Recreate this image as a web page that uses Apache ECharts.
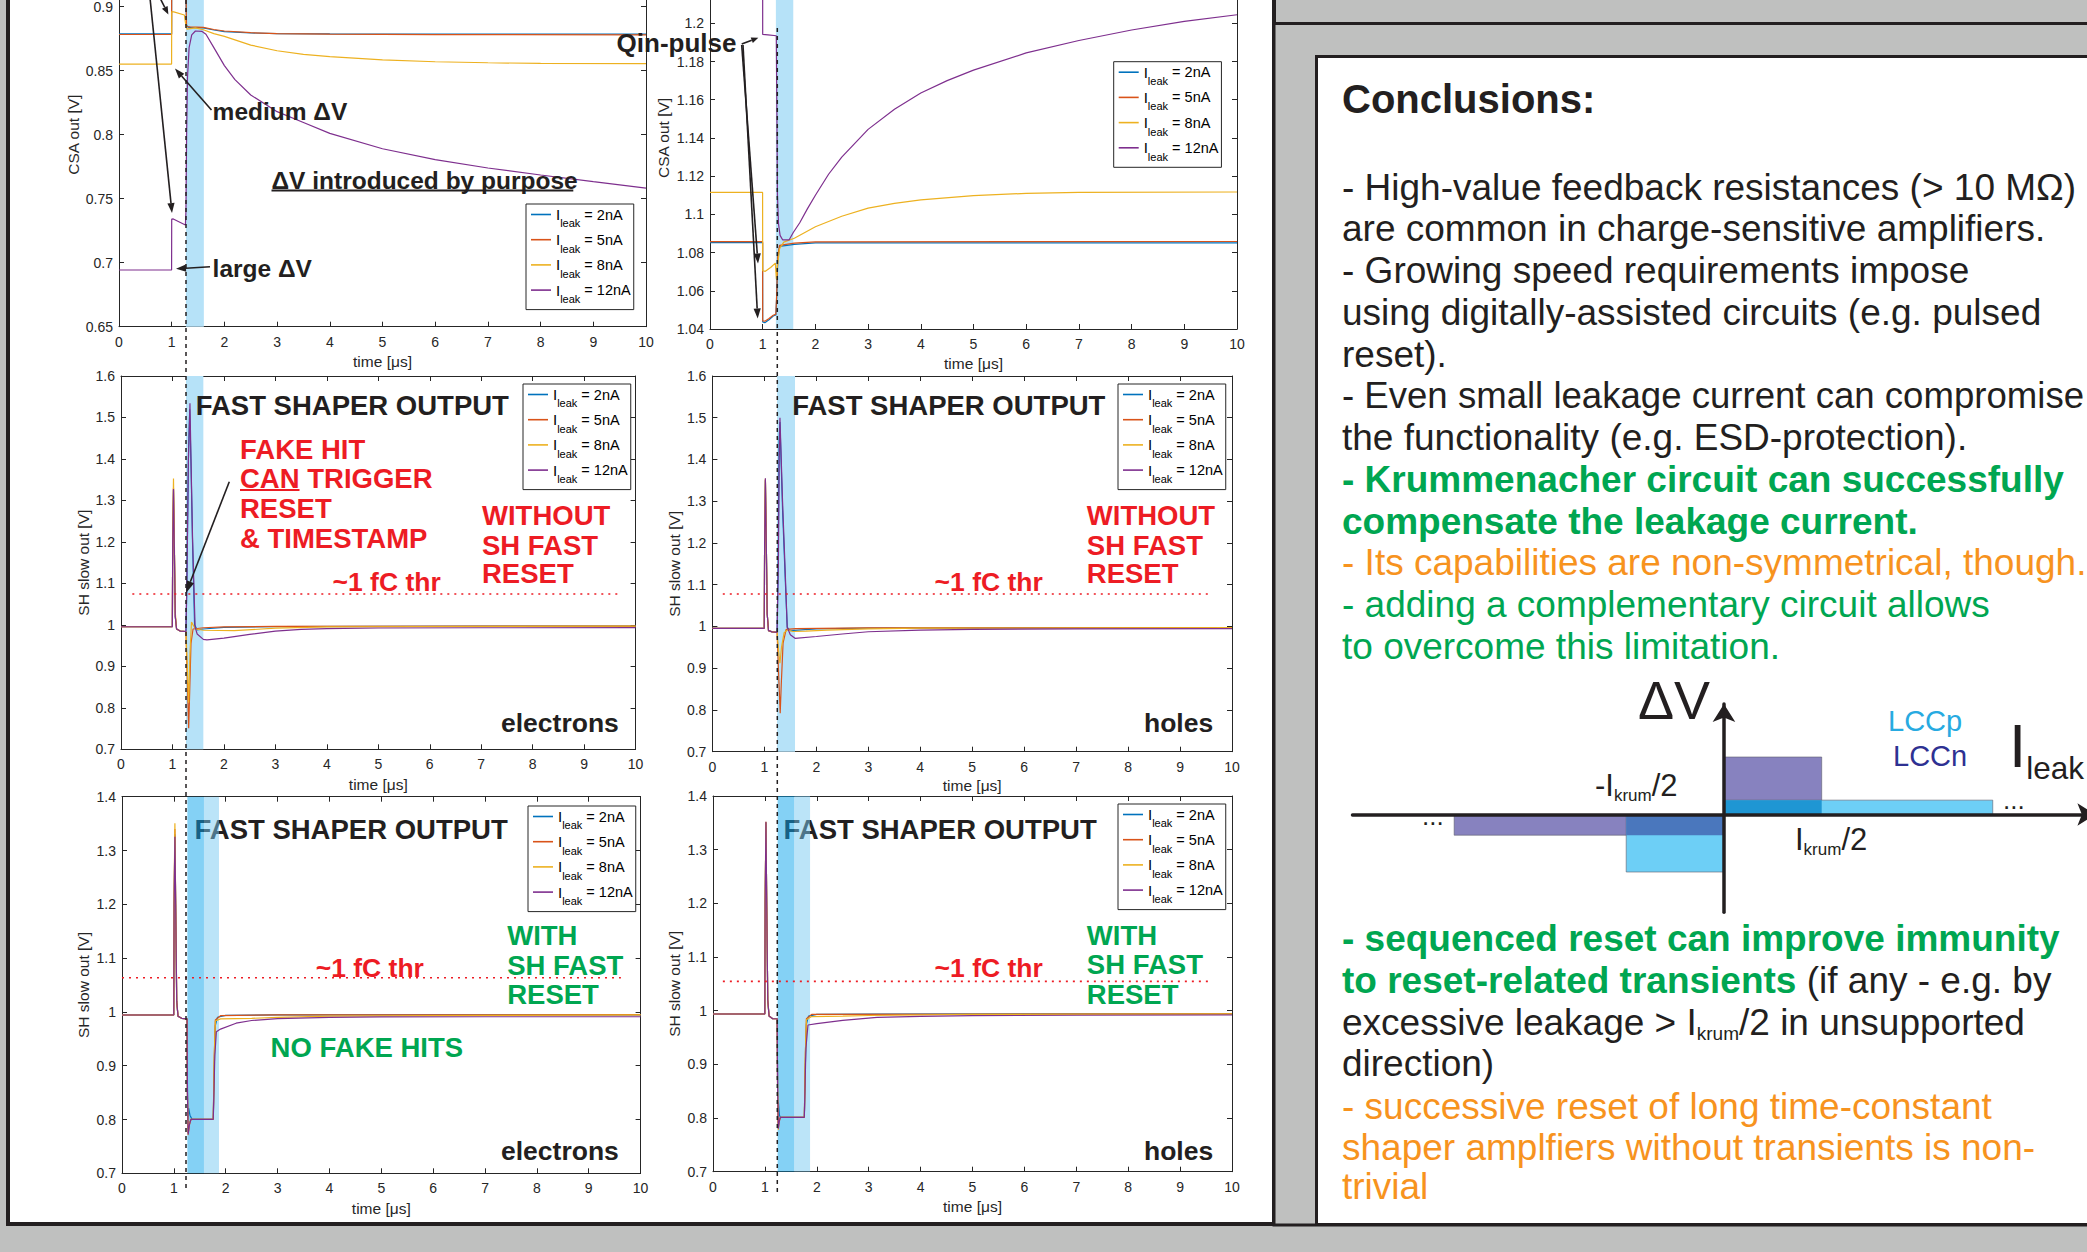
<!DOCTYPE html>
<html><head><meta charset="utf-8"><title>Leakage compensation – conclusions</title>
<script src="https://cdn.jsdelivr.net/npm/echarts@6.0.0/dist/echarts.min.js"></script>
<style>html,body{margin:0;padding:0;background:#bfc0bf;overflow:hidden}#chart{width:2087px;height:1252px}</style>
</head><body><div id="chart"></div><script>
// ================= DATA =================
const seriesNames = ['I_leak = 2nA', 'I_leak = 5nA', 'I_leak = 8nA', 'I_leak = 12nA'];
const ticksTime = [0, 1, 2, 3, 4, 5, 6, 7, 8, 9, 10];
const ticksCsaE = [0.65, 0.7, 0.75, 0.8, 0.85, 0.9];
const ticksCsaH = [1.04, 1.06, 1.08, 1.1, 1.12, 1.14, 1.16, 1.18, 1.2];
const ticksSh = [0.7, 0.8, 0.9, 1, 1.1, 1.2, 1.3, 1.4, 1.5, 1.6];
const ticksShF = [0.7, 0.8, 0.9, 1, 1.1, 1.2, 1.3, 1.4];

// Panel 1: CSA out, "ΔV introduced by purpose"
const csaE2nA = [[0,0.8787],[0.998,0.8787],[1.0,0.93],[1.262,0.93],[1.28,0.8855],[1.32,0.8838],[1.6,0.8834],[1.8,0.8818],[2.0,0.8806],[2.5,0.8795],[3,0.879],[4,0.8787],[6,0.8786],[10,0.8786]];
const csaE5nA = [[0,0.8783],[0.998,0.8783],[1.0,0.93],[1.262,0.93],[1.282,0.8845],[1.35,0.8842],[1.6,0.8838],[1.8,0.8822],[2.0,0.881],[2.5,0.8797],[3,0.879],[4,0.8785],[6,0.8782],[10,0.878]];
const csaE8nA = [[0,0.8552],[0.998,0.8552],[1.0,0.8961],[1.04,0.896],[1.24,0.8935],[1.265,0.8865],[1.29,0.8825],[1.45,0.8835],[1.6,0.882],[1.8,0.879],[2.0,0.8768],[2.5,0.870],[3.0,0.8656],[3.5,0.8628],[4.0,0.861],[5.0,0.8585],[6.0,0.857],[7,0.8562],[8,0.8557],[10,0.8555]];
const csaE12nA = [[0,0.6943],[0.998,0.6943],[1.0,0.734],[1.03,0.7342],[1.26,0.7295],[1.27,0.74],[1.283,0.80],[1.30,0.845],[1.33,0.868],[1.38,0.878],[1.45,0.881],[1.57,0.8808],[1.65,0.8785],[1.8,0.868],[2.0,0.854],[2.2,0.843],[2.5,0.831],[3.0,0.818],[3.5,0.8095],[4.0,0.801],[5.0,0.789],[6.0,0.7805],[7,0.774],[8,0.7685],[9,0.7633],[10,0.7583]];

// Panel 2: CSA out, Qin-pulse
const csaH2nA = [[0,1.0852],[0.998,1.0852],[1.0,1.0437],[1.04,1.0433],[1.12,1.0448],[1.2,1.0468],[1.25,1.0473],[1.268,1.058],[1.285,1.076],[1.32,1.0832],[1.6,1.0843],[2.0,1.0851],[10,1.0851]];
const csaH5nA = [[0,1.0857],[0.998,1.0857],[1.0,1.0443],[1.04,1.0441],[1.12,1.0455],[1.2,1.0472],[1.25,1.0478],[1.268,1.060],[1.285,1.078],[1.32,1.0838],[1.6,1.0849],[2.0,1.0856],[10,1.0858]];
const csaH8nA = [[0,1.1115],[0.998,1.1115],[1.0,1.0705],[1.05,1.0702],[1.15,1.0722],[1.24,1.0745],[1.26,1.066],[1.28,1.073],[1.32,1.082],[1.4,1.0855],[1.6,1.0875],[1.8,1.0905],[2.0,1.0935],[2.5,1.099],[3.0,1.1033],[3.5,1.1058],[4.0,1.1076],[5.0,1.1098],[6.0,1.111],[7,1.1115],[10,1.1117]];
const csaH12nA = [[0,1.26],[0.998,1.26],[1.0,1.1942],[1.1,1.194],[1.258,1.1935],[1.27,1.15],[1.28,1.11],[1.30,1.095],[1.33,1.089],[1.38,1.0866],[1.5,1.0866],[1.58,1.0905],[1.7,1.0955],[1.85,1.103],[2.0,1.110],[2.25,1.121],[2.5,1.130],[3.0,1.1445],[3.5,1.155],[4.0,1.1635],[4.5,1.170],[5.0,1.1755],[6.0,1.1845],[7.0,1.191],[8.0,1.1965],[9.0,1.201],[10,1.2045]];

// Panel 3: SH slow out, electrons, without SH fast reset
const shE2nA = [[0,0.9955],[0.998,0.9955],[1.005,1.2],[1.02,1.325],[1.035,1.2],[1.055,1.02],[1.08,0.99],[1.15,0.985],[1.262,0.984],[1.28,1.10],[1.31,1.40],[1.335,1.52],[1.36,1.39],[1.39,1.20],[1.43,1.0],[1.48,0.988],[1.6,0.990],[2,0.994],[3,0.996],[10,0.9972]];
const shE5nA = [[0,0.9955],[0.998,0.9955],[1.005,1.2],[1.02,1.33],[1.035,1.2],[1.055,1.02],[1.08,0.99],[1.15,0.985],[1.262,0.984],[1.29,0.86],[1.315,0.751],[1.335,0.84],[1.36,0.955],[1.40,0.99],[1.6,0.993],[2,0.995],[3,0.9966],[10,0.9972]];
const shE8nA = [[0,0.9955],[0.998,0.9955],[1.005,1.22],[1.02,1.353],[1.035,1.22],[1.055,1.03],[1.08,0.99],[1.15,0.985],[1.262,0.984],[1.29,0.89],[1.315,0.812],[1.34,0.93],[1.37,1.007],[1.40,1.0],[1.45,0.99],[1.6,0.987],[2.2,0.986],[3,0.992],[4,0.995],[10,0.9972]];
const shE12nA = [[0,0.9955],[0.998,0.9955],[1.005,1.2],[1.02,1.3276],[1.035,1.2],[1.055,1.02],[1.08,0.99],[1.15,0.985],[1.262,0.984],[1.28,1.10],[1.31,1.40],[1.34,1.534],[1.36,1.40],[1.39,1.21],[1.44,0.995],[1.48,0.978],[1.6,0.965],[1.67,0.9636],[2,0.968],[2.5,0.977],[3,0.985],[3.5,0.989],[4,0.991],[5,0.9925],[7,0.993],[10,0.9932]];

// Panel 4: SH slow out, holes, without SH fast reset
const shH2nA = [[0,0.9955],[0.998,0.9955],[1.005,1.2],[1.02,1.35],[1.035,1.22],[1.055,1.03],[1.08,0.99],[1.15,0.987],[1.245,0.986],[1.265,1.15],[1.285,1.45],[1.30,1.49],[1.35,1.28],[1.40,1.12],[1.44,0.998],[1.5,0.99],[2,0.994],[3,0.996],[10,0.997]];
const shH5nA = [[0,0.9955],[0.998,0.9955],[1.005,1.2],[1.02,1.352],[1.035,1.22],[1.055,1.03],[1.08,0.99],[1.15,0.987],[1.245,0.986],[1.27,0.90],[1.305,0.792],[1.325,0.86],[1.36,0.96],[1.42,0.993],[1.6,0.995],[3,0.9965],[10,0.997]];
const shH8nA = [[0,0.9955],[0.998,0.9955],[1.005,1.2],[1.02,1.354],[1.035,1.22],[1.055,1.03],[1.08,0.99],[1.15,0.987],[1.245,0.986],[1.275,0.94],[1.30,0.912],[1.33,0.95],[1.38,0.985],[1.45,0.992],[1.55,0.988],[1.8,0.989],[2.2,0.991],[3,0.994],[4,0.996],[10,0.997]];
const shH12nA = [[0,0.9955],[0.998,0.9955],[1.005,1.2],[1.02,1.355],[1.035,1.22],[1.055,1.03],[1.08,0.99],[1.15,0.987],[1.245,0.986],[1.27,1.15],[1.285,1.40],[1.30,1.50],[1.35,1.30],[1.40,1.135],[1.44,0.998],[1.5,0.98],[1.59,0.9716],[2.0,0.976],[2.5,0.982],[3,0.9874],[4,0.991],[5,0.993],[7,0.9942],[10,0.9946]];

// Panel 5: SH slow out, electrons, with SH fast reset
const shEf2nA = [[0,0.9942],[0.998,0.9942],[1.005,1.2],[1.02,1.33],[1.035,1.2],[1.055,1.02],[1.08,0.992],[1.15,0.988],[1.255,0.987],[1.262,0.85],[1.27,0.80],[1.285,0.821],[1.31,0.808],[1.35,0.8004],[1.76,0.8004],[1.78,0.90],[1.80,0.975],[1.84,0.99],[2,0.9935],[3,0.9945],[10,0.9945]];
const shEf5nA = [[0,0.9942],[0.998,0.9942],[1.005,1.2],[1.02,1.34],[1.035,1.2],[1.055,1.02],[1.08,0.992],[1.15,0.988],[1.255,0.987],[1.262,0.85],[1.275,0.775],[1.30,0.792],[1.33,0.8004],[1.76,0.8004],[1.78,0.92],[1.80,0.985],[1.9,0.993],[3,0.9945],[10,0.9948]];
const shEf8nA = [[0,0.9942],[0.998,0.9942],[1.005,1.22],[1.02,1.3505],[1.035,1.2],[1.055,1.02],[1.08,0.992],[1.15,0.988],[1.255,0.987],[1.262,0.85],[1.275,0.771],[1.30,0.79],[1.33,0.8004],[1.76,0.8004],[1.78,0.92],[1.80,0.983],[1.9,0.987],[2.5,0.988],[3,0.990],[4,0.992],[6,0.993],[10,0.9945]];
const shEf12nA = [[0,0.9942],[0.998,0.9942],[1.005,1.2],[1.02,1.3257],[1.035,1.2],[1.055,1.02],[1.08,0.992],[1.15,0.988],[1.255,0.987],[1.262,0.85],[1.275,0.772],[1.30,0.79],[1.33,0.8004],[1.76,0.8004],[1.79,0.92],[1.82,0.963],[1.9,0.968],[2.2,0.979],[2.5,0.984],[3.0,0.9874],[4,0.990],[5,0.9908],[7,0.991],[10,0.991]];

// Panel 6: SH slow out, holes, with SH fast reset
const shHf2nA = [[0,0.9938],[0.998,0.9938],[1.005,1.2],[1.02,1.35],[1.035,1.2],[1.055,1.02],[1.08,0.99],[1.15,0.985],[1.237,0.985],[1.245,0.85],[1.25,0.81],[1.26,0.83],[1.28,0.805],[1.30,0.8013],[1.76,0.8013],[1.78,0.90],[1.80,0.975],[1.84,0.99],[2,0.993],[3,0.9938],[10,0.994]];
const shHf5nA = [[0,0.9938],[0.998,0.9938],[1.005,1.2],[1.02,1.351],[1.035,1.2],[1.055,1.02],[1.08,0.99],[1.15,0.985],[1.237,0.985],[1.245,0.85],[1.255,0.79],[1.28,0.798],[1.30,0.8013],[1.76,0.8013],[1.78,0.92],[1.80,0.985],[1.9,0.9932],[10,0.994]];
const shHf8nA = [[0,0.9938],[0.998,0.9938],[1.005,1.22],[1.02,1.352],[1.035,1.2],[1.055,1.02],[1.08,0.99],[1.15,0.985],[1.237,0.985],[1.245,0.85],[1.258,0.778],[1.28,0.795],[1.30,0.8013],[1.76,0.8013],[1.78,0.92],[1.80,0.983],[1.9,0.989],[2.5,0.990],[3,0.991],[5,0.993],[10,0.994]];
const shHf12nA = [[0,0.9938],[0.998,0.9938],[1.005,1.2],[1.02,1.352],[1.035,1.2],[1.055,1.02],[1.08,0.99],[1.15,0.985],[1.237,0.985],[1.245,0.85],[1.258,0.78],[1.28,0.795],[1.30,0.8013],[1.76,0.8013],[1.79,0.93],[1.83,0.9733],[2.0,0.976],[2.5,0.982],[3.16,0.9876],[4,0.9895],[5,0.9907],[7,0.9915],[10,0.992]];

// ~1 fC threshold lines [x, V]
const thrE = [[0.22,1.0744],[9.71,1.0744]];
const thrH = [[0.2,1.0777],[9.63,1.0777]];
const thrEf = [[0.0,1.0636],[9.62,1.0636]];
const thrHf = [[0.19,1.0547],[9.63,1.0547]];

// reset windows [t0, t1, shade]  (0 = reset, 1 = first reset phase, 2 = second reset phase)
const resetCsaE = [[1.27,1.61,0]];
const resetCsaH = [[1.25,1.58,0]];
const resetShE = [[1.263,1.60,0]];
const resetShH = [[1.245,1.59,0]];
const resetShEf = [[1.26,1.58,1],[1.58,1.87,2]];
const resetShHf = [[1.245,1.565,1],[1.565,1.87,2]];

// ΔV vs I_leak sketch: [I0, I1, dV0, dV1] in units of I_krum/2
const lccnRects = [[0,1,0,1.0],[-2.76,0,-0.36,0]];
const lccpRects = [[0,2.75,0,0.25],[-1,0,-1.0,0]];

// ================= STYLE / LAYOUT =================
const FONT = '"Liberation Sans", Arial, Helvetica, sans-serif';
const COLORS = ['#0072BD', '#D95319', '#EDB120', '#7E2F8E'];
const AX = '#262626';
const INK = '#231f20', RED = '#ed1c24', GREEN = '#00a651', ORANGE = '#f7931e';
const BAND = ['#b6e2f8', 'rgba(9,163,235,0.5)', 'rgba(119,201,241,0.5)'];

const panels = [
  {grid:{left:119, top:-57.3, width:527, height:384}, y:[0.65,0.95,0.05], yt:ticksCsaE, yname:'CSA out [V]', yGap:37.5, xGap:27, data:[csaE2nA,csaE5nA,csaE8nA,csaE12nA], bands:resetCsaE, thr:null, legend:[526,204]},
  {grid:{left:710, top:-53.1, width:527, height:382.1}, y:[1.04,1.24,0.02], yt:ticksCsaH, yname:'CSA out [V]', yGap:38.5, xGap:26, data:[csaH2nA,csaH5nA,csaH8nA,csaH12nA], bands:resetCsaH, thr:null, legend:[1113.7,61.7]},
  {grid:{left:121, top:376, width:514.6, height:373.3}, y:[0.7,1.6,0.1], yt:ticksSh, yname:'SH slow out [V]', yGap:29.2, xGap:27, data:[shE2nA,shE5nA,shE8nA,shE12nA], bands:resetShE, thr:thrE, legend:[523,384]},
  {grid:{left:712.4, top:376, width:519.6, height:375.7}, y:[0.7,1.6,0.1], yt:ticksSh, yname:'SH slow out [V]', yGap:29.8, xGap:25.5, data:[shH2nA,shH5nA,shH8nA,shH12nA], bands:resetShH, thr:thrH, legend:[1118,384]},
  {grid:{left:122, top:796.7, width:518.6, height:376.6}, y:[0.7,1.4,0.1], yt:ticksShF, yname:'SH slow out [V]', yGap:30.2, xGap:27, data:[shEf2nA,shEf5nA,shEf8nA,shEf12nA], bands:resetShEf, thr:thrEf, legend:[528,806]},
  {grid:{left:713, top:796, width:519, height:375.7}, y:[0.7,1.4,0.1], yt:ticksShF, yname:'SH slow out [V]', yGap:30.4, xGap:27, data:[shHf2nA,shHf5nA,shHf8nA,shHf12nA], bands:resetShHf, thr:thrHf, legend:[1118,804]}
];

function tickFmt(ticks) {
  return v => { const t = ticks.find(t => Math.abs(t - v) < 1e-6); return t === undefined ? '' : String(t); };
}

const grids = [], xAxes = [], yAxes = [], series = [], legends = [];
panels.forEach((p, g) => {
  grids.push(Object.assign({containLabel:false, outerBoundsMode:'none', show:false}, p.grid));
  const lineS = {show:true, onZero:false, lineStyle:{color:AX, width:1}};
  const tickS = {show:true, inside:true, length:5, lineStyle:{color:AX, width:1}};
  xAxes.push({gridIndex:g, type:'value', position:'bottom', min:0, max:10, interval:1,
    axisLine:lineS, axisTick:tickS, splitLine:{show:false},
    axisLabel:{color:AX, fontSize:14, fontFamily:FONT, margin:8, formatter:tickFmt(ticksTime)},
    name:'time [μs]', nameLocation:'middle', nameGap:p.xGap, nameTextStyle:{color:AX, fontSize:15.5, fontFamily:FONT}});
  xAxes.push({gridIndex:g, type:'value', position:'top', min:0, max:10, interval:1,
    axisLine:lineS, axisTick:tickS, splitLine:{show:false}, axisLabel:{show:false}});
  yAxes.push({gridIndex:g, type:'value', position:'left', min:p.y[0], max:p.y[1], interval:p.y[2],
    axisLine:lineS, axisTick:tickS, splitLine:{show:false},
    axisLabel:{color:AX, fontSize:14, fontFamily:FONT, margin:6, formatter:tickFmt(p.yt)},
    name:p.yname, nameLocation:'middle', nameRotate:90, nameGap:p.yGap, nameTextStyle:{color:AX, fontSize:15.5, fontFamily:FONT}});
  yAxes.push({gridIndex:g, type:'value', position:'right', min:p.y[0], max:p.y[1], interval:p.y[2],
    axisLine:lineS, axisTick:tickS, splitLine:{show:false}, axisLabel:{show:false}});
  // reset window shading
  series.push({type:'custom', xAxisIndex:2*g, yAxisIndex:2*g, data:p.bands, z:1, silent:true,
    renderItem:(params, api) => {
      const cs = params.coordSys;
      const xa = api.coord([api.value(0), p.y[0]])[0];
      const xb = api.coord([api.value(1), p.y[0]])[0];
      return {type:'rect', shape:{x:xa, y:cs.y, width:xb - xa, height:cs.height}, style:{fill:BAND[api.value(2)]}};
    }});
  p.data.forEach((d, i) => series.push({type:'line', name:seriesNames[i], xAxisIndex:2*g, yAxisIndex:2*g,
    data:d, symbol:'none', showSymbol:false, smooth:false, clip:true, silent:true, z:2,
    lineStyle:{width:1.2, color:COLORS[i]}, itemStyle:{color:COLORS[i]}, emphasis:{disabled:true}}));
  if (p.thr) series.push({type:'line', name:'thr', xAxisIndex:2*g, yAxisIndex:2*g, data:p.thr,
    symbol:'none', silent:true, z:3, lineStyle:{width:1.6, color:RED, type:[2,5]}, emphasis:{disabled:true}});
  legends.push({show:true, orient:'vertical', left:p.legend[0], top:p.legend[1], data:seriesNames,
    icon:'rect', itemWidth:20, itemHeight:1.6, itemGap:3.2, padding:[3,3,5,5], selectedMode:false,
    backgroundColor:'#ffffff', borderColor:AX, borderWidth:1, borderRadius:0, itemStyle:{borderWidth:0},
    formatter:n => '{i|I}{s|leak}{t| = ' + n.split('= ')[1] + '}',
    textStyle:{color:'#000', fontFamily:FONT, fontSize:14.5, rich:{
      i:{fontSize:15, lineHeight:15, verticalAlign:'top', color:'#000', fontFamily:FONT},
      s:{fontSize:11, lineHeight:11, padding:[11,0,0,0], verticalAlign:'top', color:'#000', fontFamily:FONT},
      t:{fontSize:14.5, lineHeight:15, verticalAlign:'top', color:'#000', fontFamily:FONT}}}});
});

// ΔV / I_leak sketch (7th grid)
grids.push({left:1352.5, top:704.1, width:742.9, height:208.15, containLabel:false, outerBoundsMode:'none', show:false});
const sk = panels.length;
const arrowLine = {show:true, onZero:true, symbol:['none','arrow'], symbolSize:[17,18], lineStyle:{color:INK, width:3.5}};
xAxes.push({gridIndex:sk, type:'value', min:-3.8, max:3.8, axisLine:arrowLine, axisTick:{show:false}, axisLabel:{show:false}, splitLine:{show:false}, z:10});
yAxes.push({gridIndex:sk, type:'value', min:-1.7, max:1.92, axisLine:arrowLine, axisTick:{show:false}, axisLabel:{show:false}, splitLine:{show:false}, z:10});
const overlapRects = [];
lccnRects.forEach(a => lccpRects.forEach(b => {
  const r = [Math.max(a[0], b[0]), Math.min(a[1], b[1]), Math.max(a[2], b[2]), Math.min(a[3], b[3])];
  if (r[1] > r[0] && r[3] > r[2]) overlapRects.push(r);
}));
function rectSeries(name, data, fillFn, stroke) {
  return {type:'custom', name, xAxisIndex:2*sk, yAxisIndex:2*sk, data, silent:true, z:2,
    encode:{x:[0,1], y:[2,3]},
    renderItem:(params, api) => {
      const p0 = api.coord([api.value(0), api.value(3)]);
      const p1 = api.coord([api.value(1), api.value(2)]);
      return {type:'rect', shape:{x:p0[0], y:p0[1], width:p1[0]-p0[0], height:p1[1]-p0[1]},
        style:{fill:fillFn(api.value(2), api.value(3)), stroke:stroke, lineWidth:stroke ? 1 : 0}};
    }};
}
series.push(rectSeries('LCCn', lccnRects, () => '#8782bf', 'rgba(95,95,110,0.6)'));
series.push(rectSeries('LCCp', lccpRects, () => '#6dcff6', 'rgba(95,95,110,0.6)'));
series.push(rectSeries('overlap', overlapRects, (y0, y1) => (y0 >= 0 ? '#1f96d3' : '#4a77bd'), null));

// ================= GRAPHIC (poster frame, annotations, text) =================
const G = [];
G.push({type:'rect', z:-10, silent:true, shape:{x:8, y:-10, width:1266, height:1234}, style:{fill:'#ffffff', stroke:INK, lineWidth:4}});
G.push({type:'rect', z:-10, silent:true, shape:{x:1274, y:23.5, width:900, height:1201.5}, style:{fill:'#bfc0bf', stroke:INK, lineWidth:3}});
G.push({type:'rect', z:-9, silent:true, shape:{x:1316.5, y:56.5, width:900, height:1168}, style:{fill:'#ffffff', stroke:INK, lineWidth:3}});

function txt(text, x, y, size, color, bold, z, extra) {
  return Object.assign({type:'text', x, y, z:(z === undefined ? 10 : z), silent:true,
    style:Object.assign({text, fill:color, fontSize:size, fontWeight:bold ? 'bold' : 'normal', fontFamily:FONT, align:'left', verticalAlign:'middle'}, extra || {})});
}
function seg(x1, y1, x2, y2, color, w, dash) {
  return {type:'line', z:10, silent:true, shape:{x1, y1, x2, y2}, style:{stroke:color, lineWidth:w, lineDash:dash || null}};
}
function arrow(x1, y1, x2, y2, len, half) {
  len = len || 10; half = half || 3.6;
  const a = Math.atan2(y2 - y1, x2 - x1);
  const bx = x2 - len * Math.cos(a), by = y2 - len * Math.sin(a);
  const px = -Math.sin(a) * half, py = Math.cos(a) * half;
  G.push(seg(x1, y1, bx, by, INK, 1.6));
  G.push({type:'polygon', z:10, silent:true, shape:{points:[[x2, y2], [bx + px, by + py], [bx - px, by - py]]}, style:{fill:INK}});
}

// dashed reset-trigger markers across each column
G.push(seg(186, 0, 186, 1192, INK, 1.5, [4, 4]));
G.push(seg(777.3, 28, 777.3, 1192, INK, 1.5, [4, 4]));

// panel 1 annotations
G.push(txt('medium ΔV', 212.6, 111, 24.5, INK, true));
G.push(txt('large ΔV', 212.6, 268, 24.5, INK, true));
G.push(txt('ΔV introduced by purpose', 271.5, 180, 24.5, INK, true));
G.push(seg(271.5, 190.5, 573.3, 190.5, INK, 2));
arrow(211.5, 110, 175, 68.5);
arrow(210, 266.7, 176, 268.8);
arrow(150, -2, 172, 213);
arrow(160, -2, 168.4, 14.5, 8, 3.2);
// panel 2 annotations
G.push(txt('Qin-pulse', 616.6, 42.5, 26, INK, true));
arrow(741.7, 44, 758.3, 37.7, 7, 3);
arrow(741.7, 45, 758, 263.5);
arrow(743, 45, 757.7, 318.5);
// panel 3
G.push(txt('FAST SHAPER OUTPUT', 195.7, 405, 27.5, INK, true));
['FAKE HIT', 'CAN TRIGGER', 'RESET', '& TIMESTAMP'].forEach((s, i) => G.push(txt(s, 240, [449.3, 478.3, 508.3, 538.3][i], 27.5, RED, true)));
G.push(seg(240, 490, 299.5, 490, RED, 2.2));
['WITHOUT', 'SH FAST', 'RESET'].forEach((s, i) => G.push(txt(s, 482, [515, 545, 573.3][i], 27.5, RED, true)));
G.push(txt('~1 fC thr', 332.5, 581.7, 26.5, RED, true));
G.push(txt('electrons', 501, 722.7, 26.5, INK, true));
arrow(229.3, 481.7, 186, 593, 12, 4);
// panel 4
G.push(txt('FAST SHAPER OUTPUT', 792.2, 405, 27.5, INK, true));
['WITHOUT', 'SH FAST', 'RESET'].forEach((s, i) => G.push(txt(s, 1086.8, [515, 545, 573.3][i], 27.5, RED, true)));
G.push(txt('~1 fC thr', 934.6, 581.7, 26.5, RED, true));
G.push(txt('holes', 1144, 722.7, 26.5, INK, true));
// panel 5 (title sits underneath the translucent reset windows)
G.push(txt('FAST SHAPER OUTPUT', 194.5, 829.2, 27.5, INK, true, 0));
['WITH', 'SH FAST', 'RESET'].forEach((s, i) => G.push(txt(s, 507.2, [935, 965, 994][i], 27.5, GREEN, true)));
G.push(txt('~1 fC thr', 315.7, 968.3, 26.5, RED, true));
G.push(txt('NO FAKE HITS', 270.6, 1047.7, 27.5, GREEN, true));
G.push(txt('electrons', 501, 1151, 26.5, INK, true));
// panel 6
G.push(txt('FAST SHAPER OUTPUT', 783.5, 829.3, 27.5, INK, true, 0));
['WITH', 'SH FAST', 'RESET'].forEach((s, i) => G.push(txt(s, 1086.8, [935, 964.3, 994][i], 27.5, GREEN, true)));
G.push(txt('~1 fC thr', 934.6, 968.3, 26.5, RED, true));
G.push(txt('holes', 1144, 1151, 26.5, INK, true));

// conclusions box
G.push(txt('Conclusions:', 1342, 98.5, 40, INK, true));
const conclusionLines = [
  ['- High-value feedback resistances (> 10 MΩ)', INK, false, 37],
  ['are common in charge-sensitive amplifiers.', INK, false, 37],
  ['- Growing speed requirements impose', INK, false, 37],
  ['using digitally-assisted circuits (e.g. pulsed', INK, false, 37],
  ['reset).', INK, false, 37],
  ['- Even small leakage current can compromise', INK, false, 36.6],
  ['the functionality (e.g. ESD-protection).', INK, false, 37],
  ['- Krummenacher circuit can successfully', GREEN, true, 37],
  ['compensate the leakage current.', GREEN, true, 37],
  ['- Its capabilities are non-symmetrical, though.', ORANGE, false, 37],
  ['- adding a complementary circuit allows', GREEN, false, 37],
  ['to overcome this limitation.', GREEN, false, 37]
];
conclusionLines.forEach((l, i) => G.push(txt(l[0], 1342, 187 + i * 41.75, l[3], l[1], l[2])));
G.push(txt('- sequenced reset can improve immunity', 1342, 938.6, 37, GREEN, true));
G.push(txt('{g|to reset-related transients}{k| (if any - e.g. by}', 1342, 980, 37, INK, false, 10, {rich:{
  g:{fontSize:37, fontWeight:'bold', fill:GREEN, color:GREEN, fontFamily:FONT},
  k:{fontSize:37, fill:INK, color:INK, fontFamily:FONT}}}));
G.push(txt('{k|excessive leakage > I}{s|krum}{k|/2 in unsupported}', 1342, 1004, 37, INK, false, 10, {verticalAlign:'top', rich:{
  k:{fontSize:37, lineHeight:37, verticalAlign:'top', fill:INK, color:INK, fontFamily:FONT},
  s:{fontSize:19, lineHeight:19, padding:[20,0,0,0], verticalAlign:'top', fill:INK, color:INK, fontFamily:FONT}}}));
G.push(txt('direction)', 1342, 1063.5, 37, INK, false));
['- successive reset of long time-constant', 'shaper amplfiers without transients is non-', 'trivial'].forEach((s, i) =>
  G.push(txt(s, 1342, [1106.2, 1147.2, 1186.6][i], 37, ORANGE, false)));

// sketch labels
G.push(txt('ΔV', 1638, 700, 54, INK, false));
const subRich = (m, s, pad) => ({verticalAlign:'top', rich:{
  m:{fontSize:m, lineHeight:m, verticalAlign:'top', fill:INK, color:INK, fontFamily:FONT},
  s:{fontSize:s, lineHeight:s, padding:[pad,0,0,0], verticalAlign:'top', fill:INK, color:INK, fontFamily:FONT}}});
G.push(txt('{m|-I}{s|krum}{m|/2}', 1595, 769.5, 31, INK, false, 10, subRich(31, 17, 17)));
G.push(txt('{m|I}{s|krum}{m|/2}', 1795, 823.5, 31, INK, false, 10, subRich(31, 17, 17)));
G.push(txt('LCCp', 1888, 721, 29, '#27aae1', false));
G.push(txt('LCCn', 1893, 756, 29, '#2e3192', false));
G.push(txt('{m|I}{s|leak}', 2009, 714, 62, INK, false, 10, subRich(62, 31.5, 38)));
G.push(txt('...', 1422, 816, 26, INK, false));
G.push(txt('...', 2003, 800, 26, INK, false));

const option = {
  animation:false,
  backgroundColor:'#bfc0bf',
  textStyle:{fontFamily:FONT},
  grid:grids, xAxis:xAxes, yAxis:yAxes, series, legend:legends,
  graphic:{elements:G}
};
const chart = echarts.init(document.getElementById('chart'), null, {renderer:'svg', width:2087, height:1252});
chart.setOption(option);
</script></body></html>
